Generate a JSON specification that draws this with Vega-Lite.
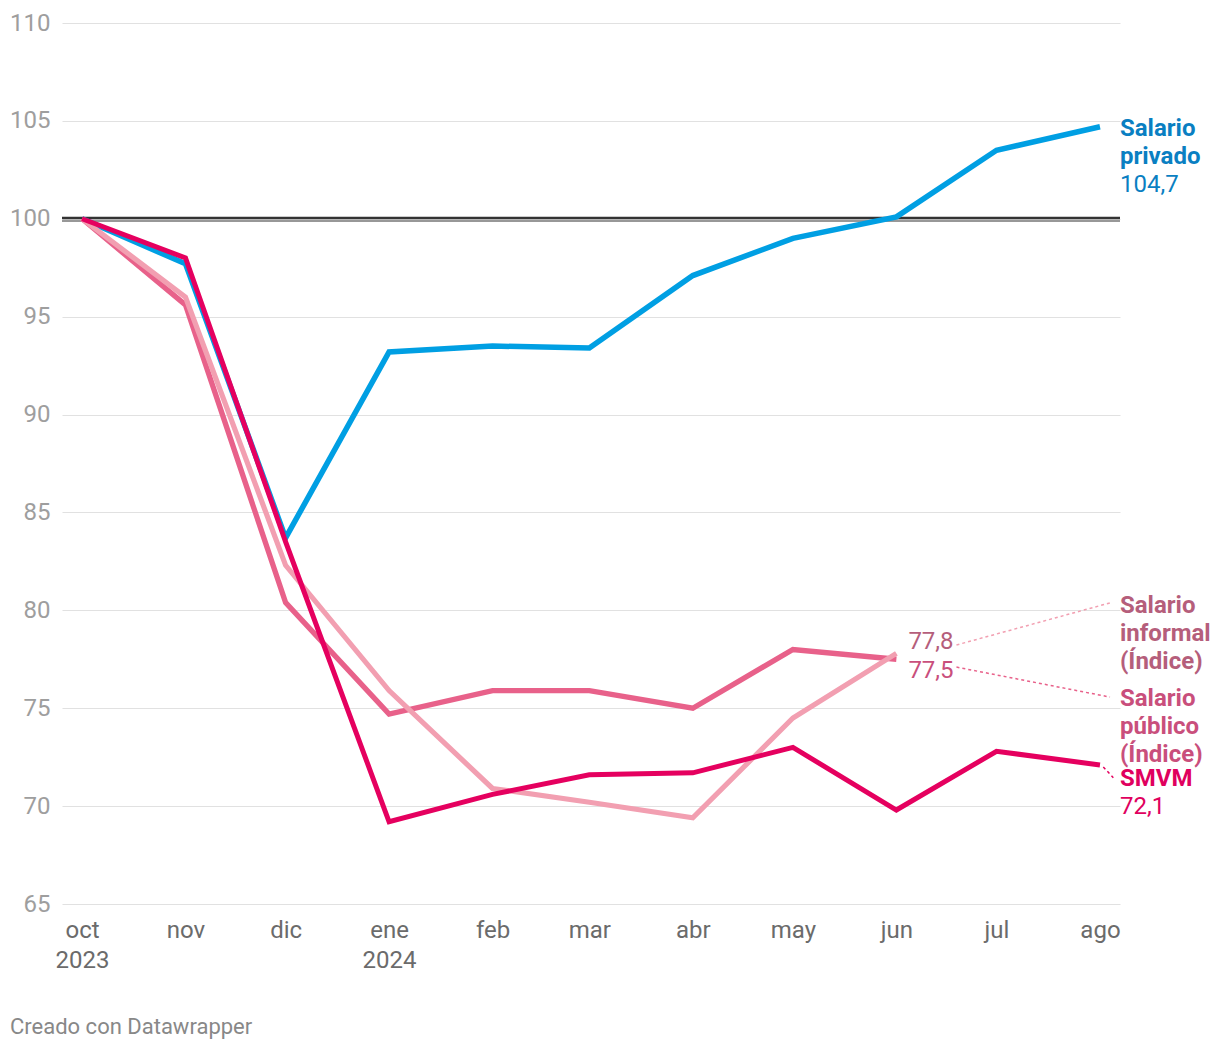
{
  "$schema": "https://vega.github.io/schema/vega-lite/v6.json",
  "width": 1058,
  "height": 881,
  "autosize": {"type": "none"},
  "padding": {"left": 62, "top": 23, "right": 100, "bottom": 146},
  "background": "white",
  "config": {"font": "Roboto", "view": {"stroke": null}},
  "title": {"text": "Creado con Datawrapper", "orient": "bottom", "anchor": "start", "frame": "group", "dx": -52, "offset": 45, "fontSize": 22, "fontWeight": "normal", "color": "#888888", "font": "Roboto"},
  "layer": [
    {
      "data": {"values": [{"value": 100}]},
      "mark": {"type": "rule", "color": "#333333", "strokeWidth": 2.6, "yOffset": -0.8},
      "encoding": {"y": {"field": "value", "type": "quantitative", "scale": {"domain": [65, 110], "nice": false, "zero": false}}}
    },
    {
      "data": {"values": [{"value": 100}]},
      "mark": {"type": "rule", "color": "#333333", "strokeWidth": 1.2, "yOffset": 2.2},
      "encoding": {"y": {"field": "value", "type": "quantitative", "scale": {"domain": [65, 110], "nice": false, "zero": false}}}
    },
    {
      "data": {"values": [
        {"s": "Salario informal", "date": "2024-06-19T00:00", "value": 78.23, "date2": "2024-08-04T00:00", "value2": 80.38},
        {"s": "Salario público", "date": "2024-06-19T00:00", "value": 77.1, "date2": "2024-08-04T00:00", "value2": 75.57},
        {"s": "SMVM", "date": "2024-08-02T00:00", "value": 72.0, "date2": "2024-08-05T00:00", "value2": 71.45}
      ]},
      "mark": {"type": "rule", "strokeDash": [3, 3], "strokeWidth": 1.5},
      "encoding": {
        "x": {"field": "date", "type": "temporal", "scale": {"domain": [{"year": 2023, "month": 9, "date": 25}, {"year": 2024, "month": 8, "date": 7}]}},
        "x2": {"field": "date2"},
        "y": {"field": "value", "type": "quantitative", "scale": {"domain": [65, 110], "nice": false, "zero": false}},
        "y2": {"field": "value2"},
        "color": {"field": "s", "type": "nominal", "scale": {"domain": ["Salario privado", "Salario público", "Salario informal", "SMVM"], "range": ["#009fe3", "#e8618a", "#f29fb1", "#e5005f"]}, "legend": null}
      }
    },
    {
      "data": {"values": [
        {"s": "Salario privado", "date": "2023-10-01T00:00", "value": 100},
        {"s": "Salario privado", "date": "2023-11-01T00:00", "value": 97.7},
        {"s": "Salario privado", "date": "2023-12-01T00:00", "value": 83.7},
        {"s": "Salario privado", "date": "2024-01-01T00:00", "value": 93.2},
        {"s": "Salario privado", "date": "2024-02-01T00:00", "value": 93.5},
        {"s": "Salario privado", "date": "2024-03-01T00:00", "value": 93.4},
        {"s": "Salario privado", "date": "2024-04-01T00:00", "value": 97.1},
        {"s": "Salario privado", "date": "2024-05-01T00:00", "value": 99.0},
        {"s": "Salario privado", "date": "2024-06-01T00:00", "value": 100.1},
        {"s": "Salario privado", "date": "2024-07-01T00:00", "value": 103.5},
        {"s": "Salario privado", "date": "2024-08-01T00:00", "value": 104.7},
        {"s": "Salario público", "date": "2023-10-01T00:00", "value": 100},
        {"s": "Salario público", "date": "2023-11-01T00:00", "value": 95.6},
        {"s": "Salario público", "date": "2023-12-01T00:00", "value": 80.4},
        {"s": "Salario público", "date": "2024-01-01T00:00", "value": 74.7},
        {"s": "Salario público", "date": "2024-02-01T00:00", "value": 75.9},
        {"s": "Salario público", "date": "2024-03-01T00:00", "value": 75.9},
        {"s": "Salario público", "date": "2024-04-01T00:00", "value": 75.0},
        {"s": "Salario público", "date": "2024-05-01T00:00", "value": 78.0},
        {"s": "Salario público", "date": "2024-06-01T00:00", "value": 77.5},
        {"s": "Salario informal", "date": "2023-10-01T00:00", "value": 100},
        {"s": "Salario informal", "date": "2023-11-01T00:00", "value": 96.0},
        {"s": "Salario informal", "date": "2023-12-01T00:00", "value": 82.3},
        {"s": "Salario informal", "date": "2024-01-01T00:00", "value": 75.9},
        {"s": "Salario informal", "date": "2024-02-01T00:00", "value": 70.9},
        {"s": "Salario informal", "date": "2024-03-01T00:00", "value": 70.2},
        {"s": "Salario informal", "date": "2024-04-01T00:00", "value": 69.4},
        {"s": "Salario informal", "date": "2024-05-01T00:00", "value": 74.5},
        {"s": "Salario informal", "date": "2024-06-01T00:00", "value": 77.8},
        {"s": "SMVM", "date": "2023-10-01T00:00", "value": 100},
        {"s": "SMVM", "date": "2023-11-01T00:00", "value": 98.0},
        {"s": "SMVM", "date": "2023-12-01T00:00", "value": 83.5},
        {"s": "SMVM", "date": "2024-01-01T00:00", "value": 69.2},
        {"s": "SMVM", "date": "2024-02-01T00:00", "value": 70.6},
        {"s": "SMVM", "date": "2024-03-01T00:00", "value": 71.6},
        {"s": "SMVM", "date": "2024-04-01T00:00", "value": 71.7},
        {"s": "SMVM", "date": "2024-05-01T00:00", "value": 73.0},
        {"s": "SMVM", "date": "2024-06-01T00:00", "value": 69.8},
        {"s": "SMVM", "date": "2024-07-01T00:00", "value": 72.8},
        {"s": "SMVM", "date": "2024-08-01T00:00", "value": 72.1}
      ]},
      "mark": {"type": "line", "strokeJoin": "miter", "strokeCap": "butt"},
      "encoding": {
        "x": {
          "field": "date", "type": "temporal",
          "scale": {"domain": [{"year": 2023, "month": 9, "date": 25}, {"year": 2024, "month": 8, "date": 7}]},
          "axis": {
            "title": null, "domain": false, "ticks": false, "grid": false,
            "values": [
              {"year": 2023, "month": 10, "date": 1}, {"year": 2023, "month": 11, "date": 1}, {"year": 2023, "month": 12, "date": 1},
              {"year": 2024, "month": 1, "date": 1}, {"year": 2024, "month": 2, "date": 1}, {"year": 2024, "month": 3, "date": 1},
              {"year": 2024, "month": 4, "date": 1}, {"year": 2024, "month": 5, "date": 1}, {"year": 2024, "month": 6, "date": 1},
              {"year": 2024, "month": 7, "date": 1}, {"year": 2024, "month": 8, "date": 1}
            ],
            "labelExpr": "month(datum.value) == 9 ? ['oct', '2023'] : month(datum.value) == 0 ? ['ene', '2024'] : ['ene','feb','mar','abr','may','jun','jul','ago','sep','oct','nov','dic'][month(datum.value)]",
            "labelFont": "Roboto", "labelFontSize": 24, "labelColor": "#6b6b6b", "labelPadding": 14, "labelLineHeight": 30,
            "labelBaseline": "top", "labelOverlap": false, "labelFlush": false
          }
        },
        "y": {
          "field": "value", "type": "quantitative",
          "scale": {"domain": [65, 110], "nice": false, "zero": false},
          "axis": {
            "title": null, "domain": false, "ticks": false,
            "values": [65, 70, 75, 80, 85, 90, 95, 100, 105, 110],
            "gridColor": "#e1e1e1", "gridWidth": 1.2,
            "labelFont": "Roboto", "labelFontSize": 24, "labelColor": "#9e9e9e", "labelPadding": 12, "labelBaseline": "middle"
          }
        },
        "color": {"field": "s", "type": "nominal", "scale": {"domain": ["Salario privado", "Salario público", "Salario informal", "SMVM"], "range": ["#009fe3", "#e8618a", "#f29fb1", "#e5005f"]}, "legend": null},
        "strokeWidth": {"field": "s", "type": "nominal", "scale": {"domain": ["Salario privado", "Salario público", "Salario informal", "SMVM"], "range": [5.5, 5, 5, 5.5]}, "legend": null}
      }
    },
    {
      "data": {"values": [{"date": "2024-08-01T00:00", "value": 104.7, "t": ["Salario", "privado"]}]},
      "mark": {"type": "text", "align": "left", "baseline": "alphabetic", "dx": 20, "dy": 9.7, "lineHeight": 28, "fontSize": 24, "fontWeight": "bold", "font": "Roboto", "color": "#0a7fc2"},
      "encoding": {
        "x": {"field": "date", "type": "temporal"},
        "y": {"field": "value", "type": "quantitative"},
        "text": {"field": "t"}
      }
    },
    {
      "data": {"values": [{"date": "2024-08-01T00:00", "value": 104.7, "t": "104,7"}]},
      "mark": {"type": "text", "align": "left", "baseline": "alphabetic", "dx": 20, "dy": 65.7, "fontSize": 24, "font": "Roboto", "color": "#0a7fc2"},
      "encoding": {
        "x": {"field": "date", "type": "temporal"},
        "y": {"field": "value", "type": "quantitative"},
        "text": {"field": "t"}
      }
    },
    {
      "data": {"values": [{"date": "2024-08-01T00:00", "value": 77.8, "t": ["Salario", "informal", "(Índice)"]}]},
      "mark": {"type": "text", "align": "left", "baseline": "alphabetic", "dx": 20, "dy": -40.9, "lineHeight": 28, "fontSize": 24, "fontWeight": "bold", "font": "Roboto", "color": "#b55e7b"},
      "encoding": {
        "x": {"field": "date", "type": "temporal"},
        "y": {"field": "value", "type": "quantitative"},
        "text": {"field": "t"}
      }
    },
    {
      "data": {"values": [{"date": "2024-06-01T00:00", "value": 77.8, "t": "77,8"}]},
      "mark": {"type": "text", "align": "left", "baseline": "alphabetic", "dx": 12, "dy": -4.9, "fontSize": 24, "font": "Roboto", "color": "#b55e7b"},
      "encoding": {
        "x": {"field": "date", "type": "temporal"},
        "y": {"field": "value", "type": "quantitative"},
        "text": {"field": "t"}
      }
    },
    {
      "data": {"values": [{"date": "2024-06-01T00:00", "value": 77.5, "t": "77,5"}]},
      "mark": {"type": "text", "align": "left", "baseline": "alphabetic", "dx": 12, "dy": 19.2, "fontSize": 24, "font": "Roboto", "color": "#c94f7c"},
      "encoding": {
        "x": {"field": "date", "type": "temporal"},
        "y": {"field": "value", "type": "quantitative"},
        "text": {"field": "t"}
      }
    },
    {
      "data": {"values": [{"date": "2024-08-01T00:00", "value": 77.5, "t": ["Salario", "público", "(Índice)"]}]},
      "mark": {"type": "text", "align": "left", "baseline": "alphabetic", "dx": 20, "dy": 47.2, "lineHeight": 28, "fontSize": 24, "fontWeight": "bold", "font": "Roboto", "color": "#c94f7c"},
      "encoding": {
        "x": {"field": "date", "type": "temporal"},
        "y": {"field": "value", "type": "quantitative"},
        "text": {"field": "t"}
      }
    },
    {
      "data": {"values": [{"date": "2024-08-01T00:00", "value": 72.1, "t": "SMVM"}]},
      "mark": {"type": "text", "align": "left", "baseline": "alphabetic", "dx": 20, "dy": 21.5, "fontSize": 24, "fontWeight": "bold", "font": "Roboto", "color": "#e0005e"},
      "encoding": {
        "x": {"field": "date", "type": "temporal"},
        "y": {"field": "value", "type": "quantitative"},
        "text": {"field": "t"}
      }
    },
    {
      "data": {"values": [{"date": "2024-08-01T00:00", "value": 72.1, "t": "72,1"}]},
      "mark": {"type": "text", "align": "left", "baseline": "alphabetic", "dx": 20, "dy": 49.5, "fontSize": 24, "font": "Roboto", "color": "#e0005e"},
      "encoding": {
        "x": {"field": "date", "type": "temporal"},
        "y": {"field": "value", "type": "quantitative"},
        "text": {"field": "t"}
      }
    }
  ]
}
